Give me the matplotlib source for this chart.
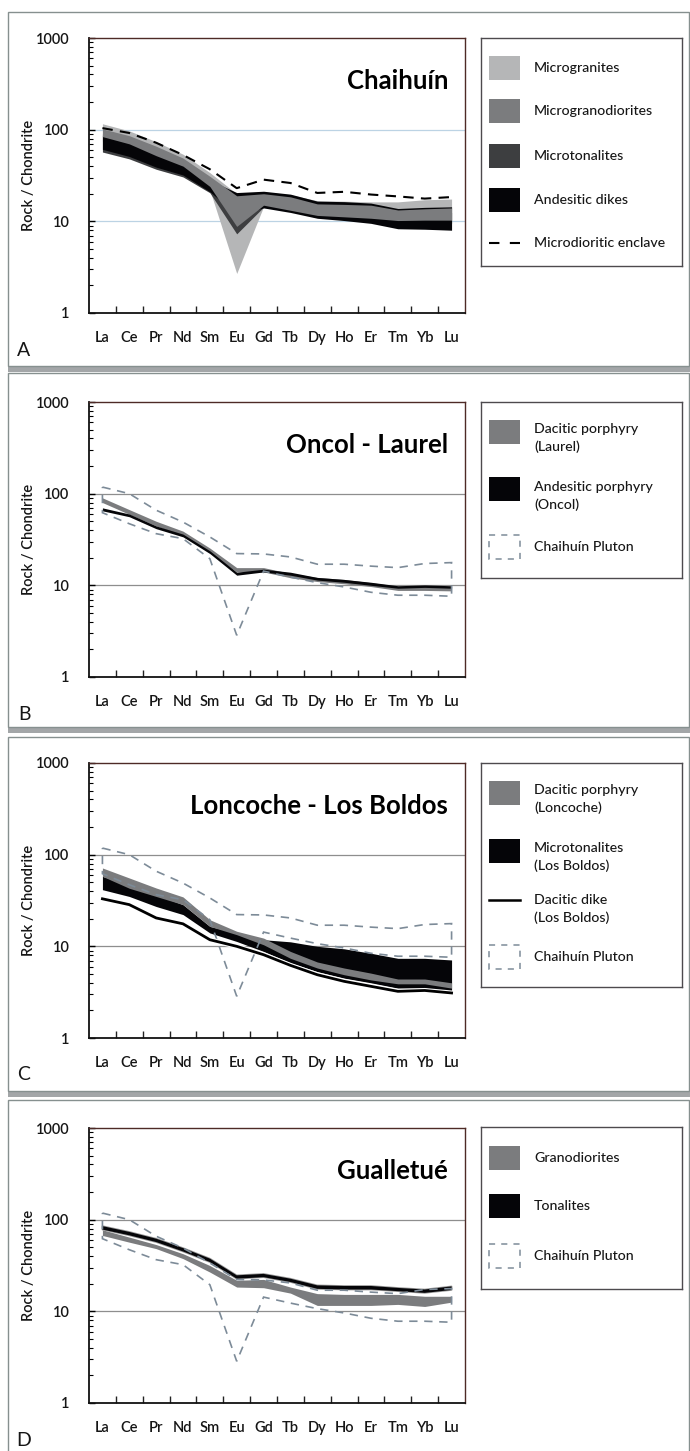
import numpy as np
import matplotlib
matplotlib.use("Agg")
import matplotlib.pyplot as plt
from matplotlib.patches import Rectangle, Polygon
from matplotlib.lines import Line2D
import matplotlib.patheffects as pe
from matplotlib.ticker import FixedLocator, LogLocator, NullFormatter

plt.rcParams['font.family'] = ['Lato', 'DejaVu Sans']

# ---------------- data ----------------
ree = ['La', 'Ce', 'Pr', 'Nd', 'Sm', 'Eu', 'Gd', 'Tb', 'Dy', 'Ho', 'Er', 'Tm', 'Yb', 'Lu']
y_ticks = [1, 10, 100, 1000]

# Chaihuín pluton (panel A)
microgranites_hi = [116, 97, 74, 54, 34, 20, 21, 19.5, 16.8, 16.6, 16.3, 16.3, 17.2, 17.5]
microgranites_lo = [75, 60, 46, 36, 22, 2.7, 14.5, 13, 11.5, 11, 10.8, 10.5, 10.5, 10.5]
microgranodiorites_hi = [102, 86, 66, 49, 31, 19, 20, 18.5, 15.5, 15.3, 15, 13.3, 13.7, 14]
microgranodiorites_lo = [84, 70, 52, 40, 24, 8.8, 15, 13.2, 11.6, 11.2, 10.8, 10.2, 10.3, 10.3]
microtonalites_hi = [90, 76, 57, 43, 27, 16, 19, 17, 14.5, 14, 13.5, 12.5, 12.5, 12.5]
microtonalites_lo = [57, 48, 37, 30.5, 20.5, 7.3, 14.3, 12.8, 11, 10.5, 10, 9.5, 9.5, 9.5]
andesitic_dikes_hi = [86, 72, 55, 42, 28, 20.6, 21.3, 19.8, 16.6, 16.4, 15.8, 13.8, 14.2, 14.4]
andesitic_dikes_lo = [61, 51, 39, 32, 21, 12, 14, 12.5, 10.8, 10.2, 9.5, 8.3, 8.2, 8.0]
enclave = [104, 92, 72, 53, 37, 23, 28.5, 26.2, 20.4, 21, 19.6, 18.7, 17.7, 18.4]

# Chaihuín pluton envelope used for comparison in panels B-D
pluton_hi = [118, 100, 66, 49, 33.7, 22.2, 22, 20.4, 17, 17, 16.2, 15.6, 17.3, 17.7]
pluton_lo = [62, 47, 36.6, 32.3, 19.5, 2.85, 14.3, 12.3, 10.7, 9.6, 8.4, 7.8, 7.8, 7.6]

# Oncol - Laurel (panel B)
laurel_hi = [90, 67, 50, 39, 25.5, 15.6, 15.6, 13.5, 12.2, 11.6, 10.7, 9.8, 9.8, 9.7]
laurel_lo = [80, 59.5, 44.5, 34.5, 22.6, 14, 14, 12.1, 11, 10.4, 9.7, 8.8, 8.8, 8.7]
oncol_hi = [70, 60, 44.5, 36.2, 23.8, 13.9, 15, 13.9, 12.2, 11.6, 10.8, 9.9, 10.1, 9.9]
oncol_lo = [65, 56, 41.5, 33.8, 22.2, 12.9, 14, 12.9, 11.4, 10.8, 10, 9.3, 9.5, 9.3]

# Loncoche - Los Boldos (panel C)
loncoche_hi = [71.6, 55.7, 43.3, 34.6, 19.5, 14.6, 12.3, 8.8, 6.75, 5.8, 5.1, 4.4, 4.4, 4.0]
loncoche_lo = [58, 43, 35, 28.5, 16.5, 13.4, 10.4, 7.4, 5.8, 4.9, 4.3, 3.9, 3.9, 3.5]
boldos_microtonalites_hi = [58, 47, 36.6, 28.5, 16.5, 14, 11.8, 11.2, 10, 9.4, 8.4, 7.4, 7.4, 7.1]
boldos_microtonalites_lo = [41.5, 35, 27.2, 22.2, 14, 11.3, 8.8, 6.6, 5.3, 4.5, 4.0, 3.5, 3.5, 3.2]
boldos_dike = [33, 28.5, 20.4, 17.6, 11.8, 10, 8.1, 6.2, 4.9, 4.15, 3.66, 3.23, 3.3, 3.1]

# Gualletué (panel D)
granodiorites_hi = [77.6, 64.5, 53.5, 42.5, 31.6, 21.8, 22.3, 18.4, 15.6, 15.3, 15.3, 15.3, 14.6, 14.6]
granodiorites_lo = [67.3, 56.8, 48.3, 37.6, 26.8, 18.4, 18.1, 15.8, 11.6, 11.6, 11.6, 11.9, 11.3, 12.6]
tonalites_hi = [85, 73.5, 62, 49, 37.6, 24.7, 25.6, 22.7, 19.2, 18.9, 18.9, 18, 17.3, 18.7]
tonalites_lo = [78, 67.5, 57, 45, 34.5, 22.7, 23.6, 20.9, 17.6, 17.3, 17.3, 16.6, 15.9, 17.1]

# ---------------- layout helpers ----------------
W, H = 690, 1451
fig = plt.figure(figsize=(W / 100, H / 100), dpi=100)
fig.patch.set_facecolor('white')


def frect(l, t, r, b):
    return [l / W, 1 - b / H, (r - l) / W, (b - t) / H]


x = np.arange(len(ree))

PLUTON_C = '#7d8b98'
TXT = '#161616'
LIGHT = '#b5b6b7'
MID = '#7b7c7e'
DARK = '#3d3e40'
BLACK = '#050508'

panels = [
    dict(top=12, bottom=366, ax=(89, 38, 465, 313), leg=(481, 38, 682, 266),
         title='Chaihuín', letter='A', grid='#bcd3e4'),
    dict(top=373, bottom=727, ax=(89, 402, 465, 677), leg=(481, 402, 682, 578),
         title='Oncol - Laurel', letter='B', grid='#8e8e8e'),
    dict(top=737, bottom=1091, ax=(89, 763, 465, 1038), leg=(481, 763, 682, 987),
         title='Loncoche - Los Boldos', letter='C', grid='#8e8e8e'),
    dict(top=1100, bottom=1460, ax=(89, 1128, 465, 1403), leg=(481, 1127, 682, 1289),
         title='Gualletué', letter='D', grid='#8e8e8e'),
]

# panel frames with a soft shadow underneath
for p in panels:
    fig.add_artist(Rectangle((8 / W, 1 - (p['bottom'] + 6) / H), 682 / W, 6 / H,
                             transform=fig.transFigure, facecolor='#a3a6a8',
                             edgecolor='none', zorder=-3))
    fig.add_artist(Rectangle((8 / W, 1 - p['bottom'] / H), 681 / W,
                             (p['bottom'] - p['top']) / H,
                             transform=fig.transFigure, facecolor='white',
                             edgecolor='#86908f', lw=1.0, zorder=-2))


def setup_axes(p):
    ax = fig.add_axes(frect(*p['ax']))
    ax.set_yscale('log')
    ax.set_ylim(1, 1000)
    ax.set_xlim(-0.5, len(ree) - 0.5)
    ax.set_xticks(x)
    ax.set_xticklabels(ree, fontweight=600, fontsize=10.5, color=TXT)
    ax.xaxis.set_minor_locator(FixedLocator(np.arange(0.5, len(ree) - 1, 1.0)))
    ax.tick_params(axis='x', which='major', length=0, pad=13)
    ax.tick_params(axis='x', which='minor', direction='in', length=5,
                   width=1.0, color='#222222')
    ax.set_yticks(y_ticks)
    ax.set_yticklabels([str(v) for v in y_ticks], fontweight=600,
                       fontsize=10.5, color=TXT)
    ax.yaxis.set_minor_locator(LogLocator(base=10, subs=np.arange(2, 10)))
    ax.yaxis.set_minor_formatter(NullFormatter())
    ax.tick_params(axis='y', which='major', direction='in', length=4,
                   width=1.0, pad=14)
    ax.tick_params(axis='y', which='minor', direction='in', length=3,
                   width=0.8)
    for s in ('left', 'bottom'):
        ax.spines[s].set_color('#111111')
        ax.spines[s].set_linewidth(1.3)
    for s in ('top', 'right'):
        ax.spines[s].set_color('#4e2a26')
        ax.spines[s].set_linewidth(1.0)
    for v in (10, 100):
        ax.axhline(v, color=p['grid'], lw=0.9, zorder=0.5)
    ax.set_ylabel('Rock / Chondrite', fontsize=10.5, color=TXT,
                  fontweight=600, labelpad=0)
    ax.text(0.955, 0.845, p['title'], transform=ax.transAxes, ha='right',
            va='center', fontsize=18.5, fontweight='bold', color='black')
    fig.text(24 / W, 1 - (p['ax'][3] + 37) / H, p['letter'], fontsize=14,
             color=TXT, ha='center', va='center')
    return ax


def legend_axes(p):
    l, t, r, b = p['leg']
    lax = fig.add_axes(frect(l, t, r, b))
    lax.set_xlim(l, r)
    lax.set_ylim(b, t)
    lax.set_xticks([])
    lax.set_yticks([])
    for s in lax.spines.values():
        s.set_color('#4d4a4e')
        s.set_linewidth(1.0)
    return lax


def leg_patch(lax, yc, color):
    lax.add_patch(Rectangle((489, yc - 12), 31, 24, facecolor=color,
                            edgecolor='none'))


def leg_pluton(lax, yc):
    lax.add_patch(Rectangle((489, yc - 12), 31, 24, facecolor='none',
                            edgecolor=PLUTON_C, lw=1.1, linestyle=(0, (4, 4))))


def leg_text(lax, yc, s):
    lax.text(534, yc, s, fontsize=10.2, color=TXT, va='center', ha='left',
             linespacing=1.45, fontweight=500)


def draw_pluton(ax):
    xs = np.concatenate([x, x[::-1]])
    ys = np.concatenate([pluton_hi, pluton_lo[::-1]])
    ax.add_patch(Polygon(np.column_stack([xs, ys]), closed=True,
                         facecolor='none', edgecolor=PLUTON_C, lw=1.2,
                         linestyle=(0, (5, 4)), zorder=5))


# ---------------- panel A: Chaihuín ----------------
p = panels[0]
ax = setup_axes(p)
ax.fill_between(x, microgranites_lo, microgranites_hi, color=LIGHT, lw=0, zorder=2)
ax.fill_between(x, microtonalites_lo, microtonalites_hi, color=DARK, lw=0, zorder=3)
ax.fill_between(x, andesitic_dikes_lo, andesitic_dikes_hi, color=BLACK, lw=0, zorder=4)
ax.fill_between(x, microgranodiorites_lo, microgranodiorites_hi, color=MID, lw=0, zorder=5)
ax.plot(x, enclave, color='black', lw=1.5, linestyle=(0, (5, 3.5)), zorder=6)

lax = legend_axes(p)
leg_patch(lax, 68, LIGHT)
leg_text(lax, 68, 'Microgranites')
leg_patch(lax, 111, MID)
leg_text(lax, 111, 'Microgranodiorites')
leg_patch(lax, 156, DARK)
leg_text(lax, 156, 'Microtonalites')
leg_patch(lax, 200, BLACK)
leg_text(lax, 200, 'Andesitic dikes')
lax.add_line(Line2D([489, 520], [243, 243], color='black', lw=1.5,
                    linestyle=(0, (5, 5))))
leg_text(lax, 243, 'Microdioritic enclave')

# ---------------- panel B: Oncol - Laurel ----------------
p = panels[1]
ax = setup_axes(p)
draw_pluton(ax)
ax.fill_between(x, laurel_lo, laurel_hi, color=MID, lw=0, zorder=3)
ax.fill_between(x, oncol_lo, oncol_hi, color=BLACK, lw=0, zorder=4)

lax = legend_axes(p)
leg_patch(lax, 432, MID)
leg_text(lax, 438, 'Dacitic porphyry\n(Laurel)')
leg_patch(lax, 489, BLACK)
leg_text(lax, 496, 'Andesitic porphyry\n(Oncol)')
leg_pluton(lax, 547)
leg_text(lax, 547, 'Chaihuín Pluton')

# ---------------- panel C: Loncoche - Los Boldos ----------------
p = panels[2]
ax = setup_axes(p)
draw_pluton(ax)
ax.fill_between(x, boldos_microtonalites_lo, boldos_microtonalites_hi,
                color=BLACK, lw=0, zorder=3)
ax.fill_between(x, loncoche_lo, loncoche_hi, color=MID, lw=0, zorder=4)
ax.plot(x, boldos_dike, color='black', lw=2.0, zorder=6,
        path_effects=[pe.Stroke(linewidth=3.6, foreground='white'), pe.Normal()])

lax = legend_axes(p)
leg_patch(lax, 793, MID)
leg_text(lax, 799, 'Dacitic porphyry\n(Loncoche)')
leg_patch(lax, 851, BLACK)
leg_text(lax, 857, 'Microtonalites\n(Los Boldos)')
lax.add_line(Line2D([489, 520], [900, 900], color='black', lw=1.8))
leg_text(lax, 909, 'Dacitic dike\n(Los Boldos)')
leg_pluton(lax, 957)
leg_text(lax, 957, 'Chaihuín Pluton')

# ---------------- panel D: Gualletué ----------------
p = panels[3]
ax = setup_axes(p)
draw_pluton(ax)
ax.fill_between(x, granodiorites_lo, granodiorites_hi, color=MID, lw=0, zorder=3)
ax.fill_between(x, tonalites_lo, tonalites_hi, color=BLACK, lw=0, zorder=4,
                path_effects=[pe.Stroke(linewidth=1.2, foreground='#9a9a9a'), pe.Normal()])

lax = legend_axes(p)
leg_patch(lax, 1158, MID)
leg_text(lax, 1158, 'Granodiorites')
leg_patch(lax, 1206, BLACK)
leg_text(lax, 1206, 'Tonalites')
leg_pluton(lax, 1256)
leg_text(lax, 1256, 'Chaihuín Pluton')

fig.savefig('out.png', dpi=100, facecolor='white')
